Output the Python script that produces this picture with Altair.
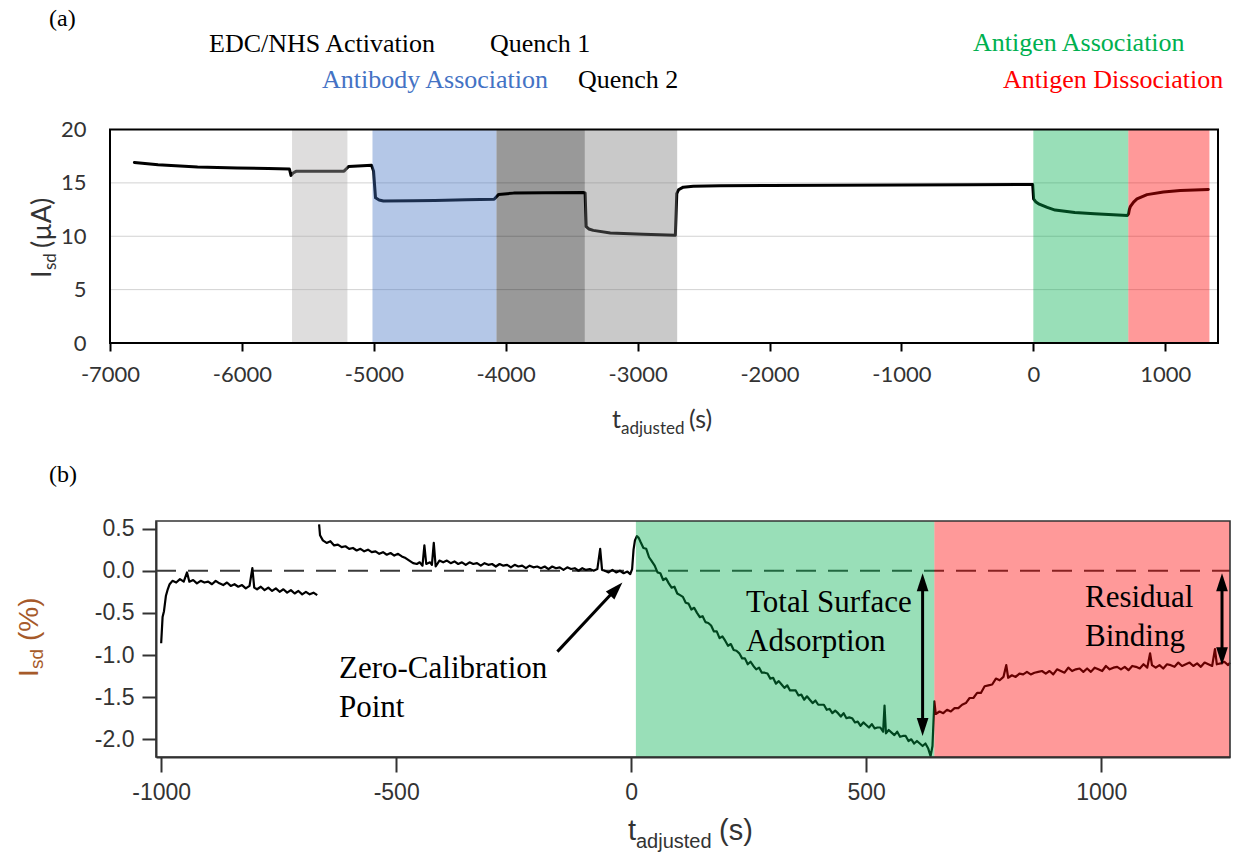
import altair as alt
import pandas as pd

# ---------------- panel (a): I_sd through the whole sensor protocol ----------------
run_time = [-6815, -6636, -6336, -6036, -5800, -5640, -5628, -5612, -5590, -5400,
            -5226, -5206, -5190, -5017, -5002, -4987, -4960, -4927, -4700, -4538,
            -4300, -4088, -4070, -4053, -3940, -3700, -3414, -3398, -3390, -3370,
            -3336, -3207, -2957, -2714, -2703, -2690, -2654, -2578, -2374, -2000,
            -1500, -1000, -500, -5, 2, 20, 45, 105, 165, 314,
            463, 713, 722, 728, 735, 760, 786, 862, 986, 1114, 1326]
run_current = [16.91, 16.70, 16.48, 16.39, 16.34, 16.30, 15.70, 15.92, 16.08, 16.10,
               16.10, 16.35, 16.54, 16.64, 16.10, 13.60, 13.40, 13.30, 13.32, 13.36,
               13.41, 13.46, 13.70, 13.92, 14.04, 14.07, 14.10, 14.05, 10.90, 10.68,
               10.55, 10.31, 10.19, 10.10, 14.00, 14.35, 14.60, 14.69, 14.74, 14.76,
               14.78, 14.80, 14.82, 14.85, 13.50, 13.20, 13.00, 12.70, 12.45, 12.22,
               12.10, 11.95, 12.10, 12.50, 12.77, 13.20, 13.50, 13.90, 14.15, 14.28, 14.38]

grid_levels = [5, 10, 15]

step_names = ["EDC/NHS Activation", "Antibody Association", "Quench 1",
              "Quench 2", "Antigen Association", "Antigen Dissociation"]
step_start = [-5620, -5010, -4070, -3400, 0, 720]
step_end = [-5200, -4070, -3400, -2700, 720, 1335]

# ---------------- panel (b): normalised I_sd around the antigen steps ----------------
pre_time = [-1000, -997, -994, -990, -986, -982, -976, -968, -960, -952,
            -945, -940, -932, -924, -916, -908, -900, -892, -884, -876,
            -868, -860, -852, -844, -836, -828, -820, -812, -806, -802,
            -796, -788, -780, -772, -764, -756, -748, -740, -732, -724,
            -716, -708, -700, -692, -684, -676, -668]
pre_signal = [-0.86, -0.55, -0.48, -0.30, -0.22, -0.16, -0.12, -0.14, -0.10, -0.13,
              -0.02, -0.13, -0.11, -0.15, -0.12, -0.14, -0.13, -0.16, -0.12, -0.15,
              -0.17, -0.14, -0.18, -0.16, -0.19, -0.17, -0.21, -0.18, 0.03, -0.20,
              -0.22, -0.19, -0.23, -0.20, -0.24, -0.21, -0.25, -0.22, -0.26, -0.23,
              -0.27, -0.24, -0.28, -0.25, -0.28, -0.26, -0.29]

base_time = [-664, -662, -656, -648, -640, -632, -624, -616, -608, -600,
             -592, -584, -576, -568, -560, -552, -544, -536, -528, -520,
             -512, -504, -496, -488, -480, -472, -464, -456, -450, -444,
             -440, -436, -428, -424, -420, -416, -408, -400, -392, -384,
             -376, -368, -360, -352, -344, -336, -328, -320, -312, -304,
             -296, -288, -280, -272, -264, -256, -248, -240, -232, -224,
             -216, -208, -200, -192, -184, -176, -168, -160, -152, -144,
             -136, -128, -120, -112, -104, -96, -88, -80, -72, -66,
             -62, -56, -48, -40, -32, -24, -16, -8, -2]
base_signal = [0.55, 0.42, 0.36, 0.33, 0.35, 0.30, 0.31, 0.28, 0.29, 0.26,
               0.27, 0.24, 0.26, 0.23, 0.25, 0.22, 0.23, 0.20, 0.22, 0.19,
               0.21, 0.18, 0.20, 0.17, 0.15, 0.12, 0.09, 0.08, 0.10, 0.06,
               0.30, 0.08, 0.10, 0.07, 0.33, 0.05, 0.12, 0.10, 0.12, 0.09,
               0.11, 0.08, 0.10, 0.07, 0.10, 0.08, 0.09, 0.06, 0.09, 0.07,
               0.08, 0.05, 0.08, 0.06, 0.07, 0.04, 0.07, 0.05, 0.06, 0.03,
               0.06, 0.04, 0.05, 0.03, 0.05, 0.02, 0.05, 0.03, 0.04, 0.01,
               0.04, 0.02, 0.03, 0.00, 0.03, 0.01, 0.02, 0.00, 0.02, 0.26,
               0.01, 0.00, -0.02, 0.01, -0.02, 0.00, -0.03, -0.01, -0.04]

assoc_time = [2, 5, 8, 12, 16, 20, 26, 32, 38, 44,
              50, 56, 62, 68, 74, 80, 86, 92, 98, 104,
              110, 116, 122, 128, 134, 140, 146, 152, 158, 164,
              170, 176, 182, 188, 194, 200, 206, 212, 218, 224,
              230, 236, 242, 248, 254, 260, 266, 272, 278, 284,
              290, 296, 302, 308, 314, 320, 326, 332, 338, 344,
              350, 356, 362, 368, 374, 380, 386, 392, 398, 404,
              410, 416, 422, 428, 434, 440, 446, 452, 458, 464,
              470, 476, 482, 488, 494, 500, 506, 512, 518, 524,
              530, 536, 539, 542, 548, 554, 560, 566, 572, 578,
              584, 590, 596, 602, 608, 614, 620, 626, 632, 637,
              641]
assoc_signal = [0.02, 0.25, 0.36, 0.41, 0.39, 0.34, 0.27, 0.26, 0.16, 0.11,
                0.06, -0.02, -0.03, -0.11, -0.09, -0.15, -0.20, -0.19, -0.27, -0.29,
                -0.31, -0.38, -0.39, -0.46, -0.44, -0.50, -0.55, -0.54, -0.61, -0.62,
                -0.65, -0.72, -0.72, -0.80, -0.78, -0.83, -0.89, -0.87, -0.94, -0.95,
                -0.98, -1.04, -1.04, -1.11, -1.08, -1.13, -1.17, -1.15, -1.21, -1.21,
                -1.22, -1.28, -1.27, -1.34, -1.31, -1.35, -1.39, -1.36, -1.42, -1.42,
                -1.42, -1.48, -1.47, -1.53, -1.49, -1.53, -1.57, -1.54, -1.59, -1.59,
                -1.59, -1.65, -1.64, -1.69, -1.66, -1.69, -1.73, -1.69, -1.75, -1.74,
                -1.75, -1.80, -1.79, -1.84, -1.80, -1.83, -1.86, -1.82, -1.87, -1.86,
                -1.86, -1.91, -1.60, -1.93, -1.89, -1.92, -1.95, -1.91, -1.97, -1.96,
                -1.96, -2.02, -2.00, -2.05, -2.02, -2.05, -2.08, -2.05, -2.11, -2.20,
                -2.08]

dissoc_time = [645, 648, 656, 664, 672, 680, 688, 696, 704, 712,
               720, 728, 736, 744, 752, 760, 768, 776, 784, 792,
               798, 802, 810, 818, 826, 834, 842, 850, 858, 866,
               874, 882, 890, 898, 906, 914, 922, 930, 938, 946,
               954, 962, 970, 978, 986, 994, 1002, 1010, 1018, 1026,
               1034, 1042, 1050, 1058, 1066, 1074, 1082, 1090, 1098, 1104,
               1108, 1116, 1124, 1132, 1140, 1148, 1156, 1164, 1172, 1180,
               1188, 1196, 1204, 1212, 1220, 1228, 1236, 1242, 1246, 1254,
               1262, 1270, 1274]
dissoc_signal = [-1.55, -1.70, -1.67, -1.69, -1.65, -1.67, -1.63, -1.63, -1.59, -1.57,
                 -1.51, -1.51, -1.45, -1.45, -1.37, -1.36, -1.35, -1.28, -1.30, -1.26,
                 -1.12, -1.27, -1.24, -1.26, -1.22, -1.23, -1.20, -1.23, -1.21, -1.20,
                 -1.19, -1.22, -1.19, -1.23, -1.17, -1.19, -1.21, -1.15, -1.19, -1.17,
                 -1.16, -1.20, -1.16, -1.20, -1.15, -1.17, -1.19, -1.13, -1.17, -1.15,
                 -1.14, -1.17, -1.14, -1.18, -1.13, -1.14, -1.16, -1.11, -1.15, -0.98,
                 -1.12, -1.15, -1.12, -1.16, -1.11, -1.12, -1.14, -1.09, -1.13, -1.11,
                 -1.09, -1.13, -1.10, -1.14, -1.09, -1.11, -1.13, -0.93, -1.11, -1.10,
                 -1.08, -1.12, -1.09]

phase_names = ["Antigen Association", "Antigen Dissociation"]
phase_start = [10, 645]
phase_end = [645, 1274]

# ---------------- tables ----------------
run_df = pd.DataFrame({"t": run_time, "isd": run_current})
grid_df = pd.DataFrame({"level": grid_levels})
steps_df = pd.DataFrame({"step": step_names, "start": step_start, "end": step_end})
trace_df = pd.DataFrame({
    "t": pre_time + base_time + assoc_time + dissoc_time,
    "pct": pre_signal + base_signal + assoc_signal + dissoc_signal,
    "part": ["pre"] * len(pre_time)
            + ["main"] * (len(base_time) + len(assoc_time) + len(dissoc_time)),
})
phase_df = pd.DataFrame({"phase": phase_names, "start": phase_start, "end": phase_end})
one = pd.DataFrame({"k": [0]})

W, H = 1238, 857
SERIF = "Liberation Serif"
SANS = "Liberation Sans"
CAL = "Lato"

# step overlays are translucent and drawn above the trace, tinting it
STEP_FILL = ["#acaaaa", "#4473c3", "#000000", "#787878", "#00af4e", "#ff0000"]
OVERLAY_OPACITY = 0.4

# ---------------- panel (a) ----------------
XA_MIN, XA_MAX = -7000, 1400
XA = alt.Scale(domain=[XA_MIN, XA_MAX], range=[110, 1218], nice=False, zero=False)
YA = alt.Scale(domain=[0, 20], range=[343, 129.5], nice=False, zero=False)
AXA = alt.Axis(orient="bottom", offset=343 - H, values=list(range(-7000, 1001, 1000)),
               labelExpr="'' + datum.value", labelFont=CAL, labelFontSize=22,
               labelColor="#333333", labelPadding=13, labelFlush=False, labelOverlap=False,
               tickSize=8, tickWidth=2, tickColor="#000000", domain=False, grid=False, title=None)
AYA = alt.Axis(orient="left", offset=-110, values=[0, 5, 10, 15, 20], labelFont=CAL,
               labelFontSize=22, labelColor="#333333", labelPadding=24, ticks=False,
               tickSize=0, domain=False, grid=False, title=None)

a_grid = alt.Chart(grid_df).mark_rule(color="#d2d2d2", strokeWidth=1).encode(
    x=alt.datum(XA_MIN), x2=alt.datum(XA_MAX),
    y=alt.Y("level:Q", scale=YA, axis=AYA),
)
a_line = alt.Chart(run_df).mark_line(color="black", strokeWidth=3, strokeJoin="round",
                                     strokeCap="round").encode(
    x=alt.X("t:Q", scale=XA, axis=AXA),
    y=alt.Y("isd:Q", scale=YA, axis=AYA),
)
a_steps = alt.Chart(steps_df).mark_rect(opacity=OVERLAY_OPACITY).encode(
    x=alt.X("start:Q", scale=XA, axis=AXA), x2="end:Q",
    y=alt.datum(0), y2=alt.datum(20),
    color=alt.Color("step:N", scale=alt.Scale(domain=step_names, range=STEP_FILL), legend=None),
)
a_frame = alt.Chart(one).mark_rect(filled=False, color="black", strokeWidth=2).encode(
    x=alt.datum(XA_MIN), x2=alt.datum(XA_MAX), y=alt.datum(0), y2=alt.datum(20),
)
panel_a = alt.layer(a_grid, a_line, a_steps, a_frame)

# ---------------- panel (b) ----------------
XB_MIN, XB_MAX = -1011, 1274
YB_MIN, YB_MAX = -2.21, 0.59
XB = alt.Scale(domain=[XB_MIN, XB_MAX], range=[156, 1230], nice=False, zero=False)
YB = alt.Scale(domain=[YB_MIN, YB_MAX], range=[757, 521], nice=False, zero=False)
AXB = alt.Axis(orient="bottom", offset=757 - H, values=[-1000, -500, 0, 500, 1000],
               labelExpr="'' + datum.value", labelFont=SANS, labelFontSize=23,
               labelColor="#333333", labelPadding=9, labelFlush=False, labelOverlap=False,
               tickSize=15, tickWidth=2, tickColor="#333333", domainColor="#333333",
               domainWidth=2, grid=False, title=None)
AYB = alt.Axis(orient="left", offset=-156, values=[-2.0, -1.5, -1.0, -0.5, 0.0, 0.5],
               labelExpr="(datum.value < 0 ? '-' : '') + format(abs(datum.value), '.1f')",
               labelFont=SANS, labelFontSize=23, labelColor="#333333", labelPadding=8,
               labelOverlap=False, labelFlush=False, tickSize=14, tickWidth=2,
               tickColor="#333333", domainColor="#333333", domainWidth=2, grid=False, title=None)

b_zero = alt.Chart(one).mark_rule(color="#3a3a3a", strokeWidth=2, strokeDash=[20, 12]).encode(
    x=alt.datum(XB_MIN), x2=alt.datum(XB_MAX), y=alt.datum(0),
)
b_line = alt.Chart(trace_df).mark_line(color="black", strokeWidth=2.2, strokeJoin="round").encode(
    x=alt.X("t:Q", scale=XB, axis=AXB),
    y=alt.Y("pct:Q", scale=YB, axis=AYB),
    detail="part:N",
)
b_phases = alt.Chart(phase_df).mark_rect(opacity=OVERLAY_OPACITY).encode(
    x=alt.X("start:Q", scale=XB, axis=AXB), x2="end:Q",
    y=alt.datum(YB_MIN), y2=alt.datum(YB_MAX),
    color=alt.Color("phase:N", scale=alt.Scale(domain=phase_names, range=["#00af4e", "#ff0000"]),
                    legend=None),
)
b_frame = alt.Chart(one).mark_rect(filled=False, color="#333333", strokeWidth=1.6).encode(
    x=alt.datum(XB_MIN), x2=alt.datum(XB_MAX), y=alt.datum(YB_MIN), y2=alt.datum(YB_MAX),
)

UP = "M0,-1L0.65,1L-0.65,1Z"
DOWN = "M0,1L0.65,-1L-0.65,-1Z"


def shaft(x, y, x2=None, y2=None):
    enc = dict(x=alt.datum(x), y=alt.datum(y), y2=alt.datum(y2))
    if x2 is not None:
        enc["x2"] = alt.datum(x2)
    return alt.Chart(one).mark_rule(color="black", strokeWidth=3).encode(**enc)


def head(x, y, shape, angle=0, dx=0, dy=0):
    return alt.Chart(one).mark_point(shape=shape, size=324, filled=True, color="black",
                                     opacity=1, strokeWidth=0, angle=angle,
                                     xOffset=dx, yOffset=dy).encode(
        x=alt.datum(x), y=alt.datum(y))


arrows = [
    # total surface adsorption
    shaft(620, -0.13, y2=-1.86), head(620, -0.03, UP, dy=9), head(620, -1.96, DOWN, dy=-9),
    # residual binding
    shaft(1257, -0.13, y2=-1.02), head(1257, -0.03, UP, dy=9), head(1257, -1.12, DOWN, dy=-9),
    # zero-calibration pointer
    shaft(-157, -0.96, x2=-33, y2=-0.22), head(-19, -0.134, UP, angle=43, dx=-6, dy=7),
]
panel_b = alt.layer(b_zero, b_line, b_phases, b_frame, *arrows)


# ---------------- text ----------------
def label(text, x, y, font, size, color="black", angle=0, baseline="alphabetic"):
    return alt.Chart(one).mark_text(text=text, font=font, fontSize=size, color=color,
                                    align="left", baseline=baseline, angle=angle).encode(
        x=alt.value(x), y=alt.value(y))


texts = [
    label("(a)", 49, 26, SERIF, 24),
    label("(b)", 49, 482, SERIF, 24),
    label("EDC/NHS Activation", 209, 52, SERIF, 26),
    label("Quench 1", 490, 52, SERIF, 26),
    label("Antibody Association", 322, 88, SERIF, 26, "#4472c4"),
    label("Quench 2", 578, 88, SERIF, 26),
    label("Antigen Association", 973, 51, SERIF, 26, "#00b050"),
    label("Antigen Dissociation", 1003, 88, SERIF, 26, "#ff0000"),
    # panel (a) axis titles
    label("I", 51, 278, CAL, 27, "#333333", angle=270),
    label("sd", 56, 270, CAL, 17, "#333333", angle=270),
    label("(µA)", 51, 248, CAL, 27, "#333333", angle=270),
    label("t", 612, 428, CAL, 25, "#333333"),
    label("adjusted", 621, 434, CAL, 17, "#333333"),
    label("(s)", 689, 428, CAL, 25, "#333333"),
    # panel (b) axis titles
    label("I", 38, 677, SANS, 28, "#a65a2a", angle=270),
    label("sd", 43, 669, SANS, 19, "#a65a2a", angle=270),
    label("(%)", 38, 641, SANS, 28, "#a65a2a", angle=270),
    label("t", 628, 840, SANS, 29, "#333333"),
    label("adjusted", 636, 848, SANS, 20, "#333333"),
    label("(s)", 719, 840, SANS, 29, "#333333"),
    # panel (b) annotations
    label("Zero-Calibration", 339, 678, SERIF, 31),
    label("Point", 339, 717, SERIF, 31),
    label("Total Surface", 746, 612, SERIF, 31),
    label("Adsorption", 746, 651, SERIF, 31),
    label("Residual", 1085, 607, SERIF, 31),
    label("Binding", 1085, 646, SERIF, 31),
]

chart = alt.layer(panel_a, panel_b, *texts).resolve_scale(
    x="independent", y="independent", color="independent"
).properties(
    width=W, height=H, padding=0, autosize=alt.AutoSizeParams(type="none"),
).configure_view(strokeWidth=0)

chart.save("out.html", embed_options={"renderer": "svg", "actions": False})
